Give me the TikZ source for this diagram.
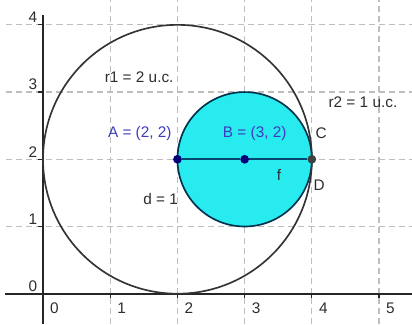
\documentclass[tikz,border=0pt]{standalone}
\usepackage{fontspec}
\setmainfont{Liberation Sans}
\definecolor{PtBlue}  {RGB}{0,   0, 120}
\definecolor{TxtBlue} {RGB}{60,  60, 190}
\definecolor{FillCyan}{RGB}{40, 235, 240}
\definecolor{SegTeal} {RGB}{0,  70, 110}
\definecolor{GridGray}{RGB}{190, 190, 190}
\definecolor{TxtGray} {RGB}{45,  45,  45}
\usepackage{tikz}
\usetikzlibrary{positioning}

\begin{document}
\begin{tikzpicture}[x=1cm, y=1cm,
  gridln/.style={draw=GridGray, line width=0.5pt, dash pattern=on 0.09cm off 0.06cm},
  axis/.style={draw=black!85, line width=0.7pt},
  circ/.style={draw=black!80, line width=0.7pt},
  lbl/.style={font=\fontsize{6.5}{7.5}\selectfont\color{TxtGray}, inner sep=1pt},
  blbl/.style={lbl, font=\fontsize{6.5}{7.5}\selectfont\color{TxtBlue}},
  pt/.style={circle, fill=PtBlue, inner sep=0pt, minimum size=0.13cm}
]
  \useasboundingbox (-0.64,-0.454) rectangle (5.49,4.37);

  %% Grid
  \foreach \i in {1,...,5}
    \draw[gridln] (\i,-0.454) -- (\i,4.37);
  \foreach \j in {1,...,4}
    \draw[gridln] (-0.55,\j) -- (5.49,\j);

  %% Axes with ticks and numbers
  \draw[axis] (-0.57,0) -- (5.49,0);
  \draw[axis] (0,-0.454) -- (0,4.15);
  \foreach \i in {0,...,5} {
    \draw[axis, line width=0.5pt] (\i,0) -- (\i,-0.07);
    \node[lbl] (xl\i) at (\i+0.17,-0.22) {\i};
  }
  \foreach \j in {0,...,4} {
    \draw[axis, line width=0.5pt] (0,\j) -- (-0.07,\j);
    \node[lbl] (yl\j) at (-0.15,\j+0.11) {\j};
  }

  %% Circles
  \draw[circ, draw=SegTeal!70!black, fill=FillCyan] (3,2) circle (1);
  \draw[circ] (2,2) circle (2);

  %% Points and segment
  \node[pt]                 (A) at (2,2) {};
  \node[pt]                 (B) at (3,2) {};
  \node[pt, fill=black!75]  (C) at (4,2) {};
  \draw[SegTeal, line width=1pt] (A) -- (B) -- (C);

  %% Labels
  \node[lbl]  (r1)   at (1.43,3.22) {r1 = 2 u.c.};
  \node[lbl]  (r2)   at (4.76,2.85) {r2 = 1 u.c.};
  \node[blbl] (Alab) at (1.44,2.39) {A = (2, 2)};
  \node[blbl] (Blab) at (3.15,2.39) {B = (3, 2)};
  \node[lbl]  (Clab) at (4.14,2.39) {C};
  \node[lbl]  (Dlab) at (4.11,1.61) {D};
  \node[lbl]  (flab) at (3.51,1.76) {f};
  \node[lbl]  (dlab) at (1.75,1.41) {d = 1};
\end{tikzpicture}
\end{document}
